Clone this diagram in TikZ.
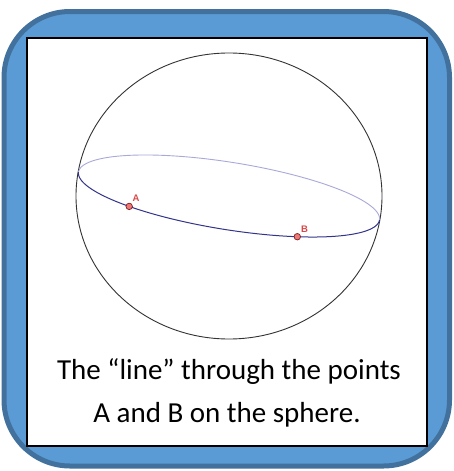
\documentclass[tikz,border=0pt]{standalone}
\usepackage{fontspec}
\setmainfont{Carlito}
\newfontfamily\labelfont{Liberation Sans}
\definecolor{framefill}{HTML}{5B9BD5}
\definecolor{framedraw}{HTML}{41719C}
\definecolor{frontblue}{HTML}{33338C}
\definecolor{backblue}{HTML}{A9A9D9}
\definecolor{ptfill}{HTML}{EE7777}
\definecolor{ptdraw}{HTML}{7A2020}
\definecolor{lblred}{HTML}{D94848}
\begin{document}
\begin{tikzpicture}[x=1pt,y=-1pt,
  outerframe/.style={draw=framedraw,fill=framefill,line width=5pt,rounded corners=66pt},
  innerframe/.style={draw=black,fill=white,line width=1.4pt},
  sphere/.style={draw=black!80,line width=0.9pt},
  frontline/.style={draw=frontblue,line width=1pt},
  backline/.style={draw=backblue,line width=0.9pt},
  pt/.style={circle,draw=ptdraw,fill=ptfill,line width=0.7pt,inner sep=0pt,minimum size=6.5pt},
  lbl/.style={text=lblred,font=\labelfont\bfseries\fontsize{9.5}{11}\selectfont,inner sep=0pt},
  caption/.style={font=\fontsize{29}{34}\selectfont,anchor=base,inner sep=0pt}
]
\useasboundingbox (0,0) rectangle (453,471);
\path[outerframe] (4,11.5) rectangle (449.5,466);
\path[innerframe] (27,38) rectangle (427,446);
\path[sphere] (229,196) ellipse [x radius=153, y radius=143];
\def\cx{229}\def\cy{196}\def\ra{152.4}\def\rb{33.7}\def\ph{9.06}
\draw[backline] plot[domain=180:360,samples=120,smooth]
  ({\cx+\ra*cos(\x)*cos(\ph)-\rb*sin(\x)*sin(\ph)},{\cy+\ra*cos(\x)*sin(\ph)+\rb*sin(\x)*cos(\ph)});
\draw[frontline] plot[domain=0:180,samples=120,smooth]
  ({\cx+\ra*cos(\x)*cos(\ph)-\rb*sin(\x)*sin(\ph)},{\cy+\ra*cos(\x)*sin(\ph)+\rb*sin(\x)*cos(\ph)});
\node[pt] (A) at (129.2,206.4) {};
\node[pt] (B) at (297.3,236.7) {};
\node[lbl] (lA) at (136,198.7) {A};
\node[lbl] (lB) at (304.5,229) {B};
\node[caption] (c1) at (229,379) {The “line” through the points};
\node[caption] (c2) at (227,422) {A and B on the sphere.};
\end{tikzpicture}
\end{document}
